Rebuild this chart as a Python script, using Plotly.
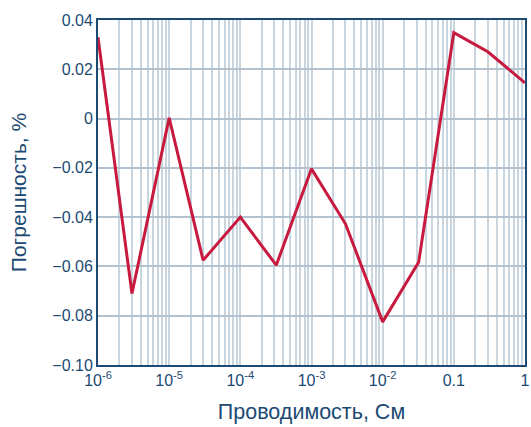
import plotly.graph_objects as go

# Conductance (S) and measurement error (%)
conductance = [1e-6, 3e-6, 1e-5, 3e-5, 1e-4, 3.2e-4, 1e-3, 3e-3, 1e-2, 3.2e-2, 0.1, 0.3, 1.0]
error_pct = [0.033, -0.071, 0.0003, -0.0575, -0.040, -0.0595, -0.0204, -0.0427,
             -0.0825, -0.0583, 0.0349, 0.0271, 0.0145]

x_tickvals = [1e-6, 1e-5, 1e-4, 1e-3, 1e-2, 0.1, 1]
x_ticktext = ["10<sup>-6</sup>", "10<sup>-5</sup>", "10<sup>-4</sup>", "10<sup>-3</sup>",
              "10<sup>-2</sup>", "0.1", "1"]
y_tickvals = [-0.10, -0.08, -0.06, -0.04, -0.02, 0, 0.02, 0.04]
y_ticktext = ["\u22120.10", "\u22120.08", "\u22120.06", "\u22120.04", "\u22120.02", "0", "0.02", "0.04"]

x_title = "Проводимость, См"
y_title = "Погрешность, %"

ink = "#1c4a73"
grid = "#c9d5df"
font_family = "Liberation Sans, Arial, sans-serif"

fig = go.Figure()
fig.add_trace(go.Scatter(
    x=conductance, y=error_pct, mode="lines",
    line=dict(color="#c8193f", width=3),
    hoverinfo="skip",
))

fig.update_layout(
    width=531, height=427,
    margin=dict(l=98, r=1, t=20, b=62),
    paper_bgcolor="white", plot_bgcolor="white",
    showlegend=False,
    font=dict(family=font_family, color=ink, size=16),
)

fig.update_xaxes(
    type="log", range=[-6, 0],
    tickvals=x_tickvals, ticktext=x_ticktext,
    tickfont=dict(size=16, color=ink),
    ticklabeloverflow="allow",
    showgrid=True, gridcolor=grid, gridwidth=1.5,
    minor=dict(dtick="D1", showgrid=True, gridcolor=grid, gridwidth=1.5, ticks=""),
    showline=True, linecolor=ink, linewidth=2, mirror=True,
    ticks="", zeroline=False,
    title=dict(text=x_title, font=dict(size=21.5, color=ink), standoff=16),
)

fig.update_yaxes(
    range=[-0.10, 0.04],
    tickvals=y_tickvals, ticktext=y_ticktext,
    tickfont=dict(size=16, color=ink),
    showgrid=True, gridcolor="#b4c2cf", gridwidth=1.5,
    showline=True, linecolor=ink, linewidth=2, mirror=True,
    ticks="", zeroline=False,
    title=dict(text=y_title, font=dict(size=21, color=ink), standoff=20),
)

fig.write_html("out.html")
